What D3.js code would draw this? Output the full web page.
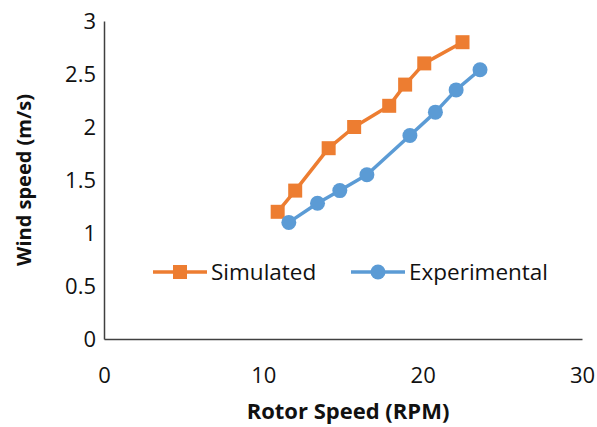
<!DOCTYPE html>
<html>
<head>
<meta charset="utf-8">
<script src="https://cdn.jsdelivr.net/npm/d3@7"></script>
<style>
  body { margin: 0; background: #fff; }
  svg { display: block; }
  text { font-family: "Open Sans", sans-serif; fill: #111; }
</style>
</head>
<body>
<svg id="chart" width="597" height="427"></svg>
<script>
// data
const seriesNames = ["Simulated", "Experimental"];
const simulatedRpm = [10.9, 12.0, 14.1, 15.7, 17.9, 18.9, 20.1, 22.5];
const simulatedWind = [1.2, 1.4, 1.8, 2.0, 2.2, 2.4, 2.6, 2.8];
const experimentalRpm = [11.6, 13.4, 14.8, 16.5, 19.2, 20.8, 22.1, 23.6];
const experimentalWind = [1.1, 1.28, 1.4, 1.55, 1.92, 2.14, 2.35, 2.54];
const xTicks = [0, 10, 20, 30];
const yTicks = [0, 0.5, 1, 1.5, 2, 2.5, 3];

const ORANGE = "#ED7D31";
const BLUE = "#5B9BD5";
const AXIS_COLOR = "#404040";

const margin = { top: 21, right: 15, bottom: 88, left: 104 };
const W = 597, H = 427;
const width = W - margin.left - margin.right,
  height = H - margin.top - margin.bottom;

const svg = d3.select("#chart");
const g = svg.append("g").attr("transform", `translate(${margin.left},${margin.top})`);

const x = d3.scaleLinear().domain([0, 30]).range([0, width]);
const y = d3.scaleLinear().domain([0, 3]).range([height, 0]);

// axes (no tick marks, just the line + labels)
const xAxis = g.append("g")
  .attr("transform", `translate(0,${height})`)
  .call(d3.axisBottom(x).tickValues(xTicks).tickSize(0).tickPadding(28).tickFormat(d3.format("d")));
const yAxis = g.append("g")
  .call(d3.axisLeft(y).tickValues(yTicks).tickSize(0).tickPadding(8).tickFormat((d) => d));

[xAxis, yAxis].forEach((a) => {
  a.select(".domain").attr("stroke", AXIS_COLOR).attr("stroke-width", 1.5);
  a.selectAll("text").attr("font-family", "Open Sans").attr("font-size", "22px").attr("fill", "#111");
});

// axis titles
svg.append("text")
  .attr("x", 348)
  .attr("y", 419)
  .attr("text-anchor", "middle")
  .attr("font-weight", "bold")
  .attr("font-size", "22px")
  .text("Rotor Speed (RPM)");

svg.append("text")
  .attr("transform", `translate(31,${margin.top + height / 2}) rotate(-90)`)
  .attr("text-anchor", "middle")
  .attr("font-weight", "bold")
  .attr("font-size", "20px")
  .text("Wind speed (m/s)");

const series = [
  { name: seriesNames[0], xs: simulatedRpm, ys: simulatedWind, color: ORANGE, shape: "square" },
  { name: seriesNames[1], xs: experimentalRpm, ys: experimentalWind, color: BLUE, shape: "circle" },
];

const line = d3.line().x((d) => x(d[0])).y((d) => y(d[1]));

function drawMarker(sel, shape, color) {
  if (shape === "square") {
    sel.append("rect").attr("x", -7).attr("y", -7).attr("width", 14).attr("height", 14).attr("fill", color);
  } else {
    sel.append("circle").attr("r", 7.5).attr("fill", color);
  }
}

series.forEach((s) => {
  const pts = s.xs.map((v, i) => [v, s.ys[i]]);
  g.append("path")
    .datum(pts)
    .attr("d", line)
    .attr("fill", "none")
    .attr("stroke", s.color)
    .attr("stroke-width", 3.5)
    .attr("stroke-linejoin", "round");
  g.selectAll(null)
    .data(pts)
    .enter()
    .append("g")
    .attr("transform", (d) => `translate(${x(d[0])},${y(d[1])})`)
    .each(function () { drawMarker(d3.select(this), s.shape, s.color); });
});

// legend
const legendY = 272;
const legendX = [153, 351];
series.forEach((s, i) => {
  const lg = svg.append("g").attr("transform", `translate(${legendX[i]},${legendY})`);
  lg.append("line").attr("x1", 0).attr("x2", 54).attr("stroke", s.color).attr("stroke-width", 3.5);
  drawMarker(lg.append("g").attr("transform", "translate(27,0)"), s.shape, s.color);
  lg.append("text")
    .attr("x", 58)
    .attr("dy", "0.35em")
    .attr("font-size", "22.5px")
    .text(s.name);
});
</script>
</body>
</html>
